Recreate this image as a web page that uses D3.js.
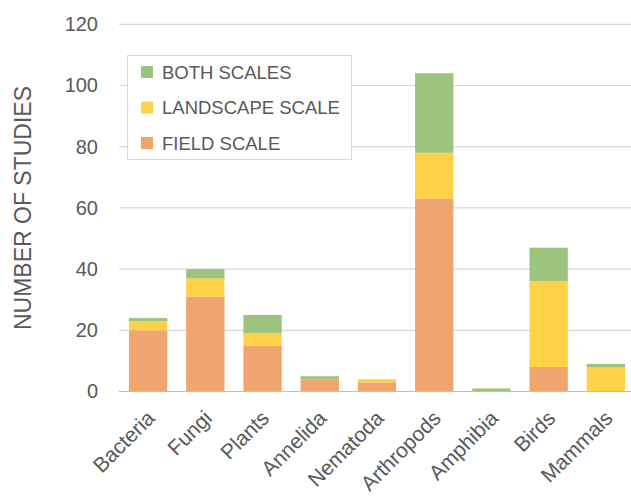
<!DOCTYPE html>
<html>
<head>
<meta charset="utf-8">
<script src="https://cdn.jsdelivr.net/npm/d3@7"></script>
<style>
  body { margin: 0; background: #fff; }
  text { font-family: "Liberation Sans", Arial, sans-serif; fill: #595959; }
</style>
</head>
<body>
<div id="chart"></div>
<script>
// values
const taxa = ["Bacteria", "Fungi", "Plants", "Annelida", "Nematoda", "Arthropods", "Amphibia", "Birds", "Mammals"];
const fieldScale = [20, 31, 15, 4, 3, 63, 0, 8, 0];
const landscapeScale = [3, 6, 4, 0, 1, 15, 0, 28, 8];
const bothScales = [1, 3, 6, 1, 0, 26, 1, 11, 1];
const yTicks = [0, 20, 40, 60, 80, 100, 120];

const series = [
    { key: "FIELD SCALE", values: fieldScale, color: "#f1a56e" },
    { key: "LANDSCAPE SCALE", values: landscapeScale, color: "#ffd247" },
    { key: "BOTH SCALES", values: bothScales, color: "#9cc47e" }
];

const width = 631, height = 502;

const svg = d3.select('#chart')
    .append('svg')
    .attr('width', width)
    .attr('height', height);

const x = d3.scaleBand()
    .domain(taxa)
    .range([119.5, 634.5])
    .paddingInner(0.33)
    .paddingOuter(0.165);

const y = d3.scaleLinear()
    .domain([0, 120])
    .range([391.5, 24.3]);

// gridlines
svg.append('g').selectAll('line')
    .data(yTicks.filter(d => d > 0))
    .join('line')
    .attr('x1', 119).attr('x2', width)
    .attr('y1', d => y(d)).attr('y2', d => y(d))
    .style('stroke', '#d9d9d9')
    .style('stroke-width', 1.2);

// stacked bars
const rows = taxa.map((t, i) => {
    const r = { taxon: t };
    series.forEach(s => r[s.key] = s.values[i]);
    return r;
});
const stack = d3.stack().keys(series.map(s => s.key))(rows);

svg.append('g').selectAll('g')
    .data(stack)
    .join('g')
    .style('fill', (d, i) => series[i].color)
    .selectAll('rect')
    .data(d => d.filter(p => p[1] > p[0]))
    .join('rect')
    .attr('x', d => x(d.data.taxon))
    .attr('width', x.bandwidth())
    .attr('y', d => y(d[1]))
    .attr('height', d => y(d[0]) - y(d[1]));

// baseline
svg.append('line')
    .attr('x1', 119).attr('x2', width)
    .attr('y1', y(0)).attr('y2', y(0))
    .style('stroke', '#bfbfbf')
    .style('stroke-width', 1.2);

// y axis
const yAxis = svg.append('g')
    .attr('transform', 'translate(119,0)')
    .call(d3.axisLeft(y).tickValues(yTicks).tickSize(0).tickPadding(21));
yAxis.select('.domain').remove();
yAxis.selectAll('text')
    .style('font-size', '20px')
    .style('font-family', '"Liberation Sans", Arial, sans-serif')
    .style('fill', '#595959');

// x axis labels
const xAxis = svg.append('g')
    .attr('transform', `translate(0,${y(0)})`)
    .call(d3.axisBottom(x).tickSize(0).tickPadding(0));
xAxis.select('.domain').remove();
xAxis.selectAll('text')
    .style('font-size', '21px')
    .style('font-family', '"Liberation Sans", Arial, sans-serif')
    .style('fill', '#595959')
    .style('text-anchor', 'end')
    .attr('dy', null)
    .attr('y', 0)
    .attr('transform', 'translate(8,28) rotate(-45)');

// y axis title
svg.append('text')
    .attr('transform', 'translate(31,208) rotate(-90)')
    .attr('text-anchor', 'middle')
    .style('font-size', '23px')
    .text('NUMBER OF STUDIES');

// legend
const legend = svg.append('g');
legend.append('rect')
    .attr('x', 127.5).attr('y', 55.5)
    .attr('width', 224).attr('height', 104)
    .style('fill', '#fff')
    .style('stroke', '#d9d9d9');

const legendItems = legend.selectAll('g.item')
    .data(series.slice().reverse())
    .join('g')
    .attr('class', 'item')
    .attr('transform', (d, i) => `translate(141,${72 + i * 35.5})`);
legendItems.append('rect')
    .attr('x', 0).attr('y', -6)
    .attr('width', 12).attr('height', 12)
    .style('fill', d => d.color);
legendItems.append('text')
    .attr('x', 21).attr('y', 0)
    .attr('dy', '0.36em')
    .style('font-size', '18.5px')
    .text(d => d.key);
</script>
</body>
</html>
